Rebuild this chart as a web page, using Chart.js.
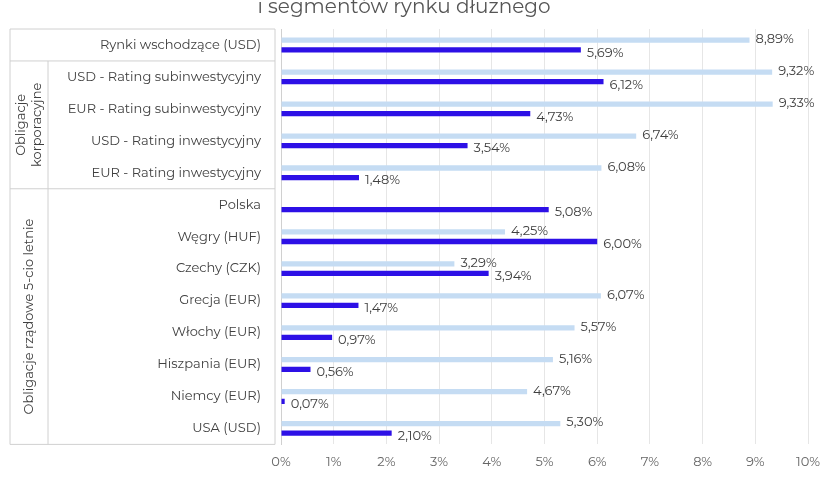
<!DOCTYPE html><html><head><meta charset="utf-8">
<script src="https://cdn.jsdelivr.net/npm/chart.js@4"></script>
<style>body{margin:0;overflow:hidden;background:#fff}#w{position:absolute;left:0;top:-33px;width:840px;height:546px}</style></head><body>
<div id="w"><canvas id="c"></canvas></div>
<script>
const categories=["Rynki wschodzące (USD)","USD - Rating subinwestycyjny","EUR - Rating subinwestycyjny","USD - Rating inwestycyjny","EUR - Rating inwestycyjny","Polska","Węgry (HUF)","Czechy (CZK)","Grecja (EUR)","Włochy (EUR)","Hiszpania (EUR)","Niemcy (EUR)","USA (USD)"];
const currentValues=[8.89,9.32,9.33,6.74,6.08,null,4.25,3.29,6.07,5.57,5.16,4.67,5.30];
const endOf2021Values=[5.69,6.12,4.73,3.54,1.48,5.08,6.00,3.94,1.47,0.97,0.56,0.07,2.10];
const seriesNames=["Rentowność obecnie","Rentowność na koniec 2021 r."];
const groups=[{label:["Obligacje","korporacyjne"],from:1,to:4},{label:["Obligacje rządowe 5-cio letnie"],from:5,to:12}];
const F="Montserrat, 'Open Sans', sans-serif";
const fmt=v=>v.toFixed(2).replace('.',',')+'%';
const labelsPlugin={id:'lbl',afterDatasetsDraw(ch){const c=ch.ctx;c.save();c.font="13px "+F;c.fillStyle="#404040";c.textBaseline="middle";
ch.data.datasets.forEach((ds,i)=>{ch.getDatasetMeta(i).data.forEach((el,j)=>{const v=ds.data[j];if(v==null)return;c.fillText(fmt(v),el.x+6,el.y+(i==0?-1:3));});});c.restore();}};
const groupPlugin={id:'grp',afterDraw(ch){const c=ch.ctx,y=ch.scales.y,ca=ch.chartArea;c.save();c.strokeStyle="#d0d0d0";c.lineWidth=1;
const half=(y.getPixelForValue(1)-y.getPixelForValue(0))/2;const L=10,M=48,R=ca.left-6;
const top=y.getPixelForValue(0)-half,bot=y.getPixelForValue(categories.length-1)+half;
c.beginPath();c.moveTo(L,top);c.lineTo(R,top);c.moveTo(L,top);c.lineTo(L,bot);c.lineTo(R,bot);c.lineTo(R,top);c.stroke();
groups.forEach(g=>{const a=y.getPixelForValue(g.from)-half,b=y.getPixelForValue(g.to)+half;c.beginPath();c.moveTo(L,a);c.lineTo(R,a);c.moveTo(M,a);c.lineTo(M,b);c.stroke();
c.save();c.translate((L+M)/2,(a+b)/2);c.rotate(-Math.PI/2);c.fillStyle="#404040";c.font="13px "+F;c.textAlign="center";c.textBaseline="middle";
const n=g.label.length;g.label.forEach((t,k)=>c.fillText(t,0,(k-(n-1)/2)*16));c.restore();});c.restore();}};
new Chart(document.getElementById('c'),{type:'bar',data:{labels:categories,datasets:[
{label:seriesNames[0],data:currentValues,backgroundColor:"#c5dcf3",barPercentage:0.55,categoryPercentage:0.6},
{label:seriesNames[1],data:endOf2021Values,backgroundColor:"#2d10e6",barPercentage:0.55,categoryPercentage:0.6}]},
options:{indexAxis:'y',responsive:true,maintainAspectRatio:false,animation:false,
layout:{padding:{left:0,right:32,top:0,bottom:0}},
plugins:{title:{display:true,text:["Rentowności zagranicznych obligacji","i segmentów rynku dłużnego"],color:"#555",font:{family:F,size:20,weight:'normal'},padding:{top:4,bottom:10}},
legend:{position:'bottom',labels:{color:'#555',font:{family:F,size:13},boxWidth:12,boxHeight:12},padding:20},tooltip:{enabled:false}},
scales:{x:{min:0,max:10,ticks:{stepSize:1,callback:v=>v+'%',color:'#666',font:{family:F,size:13},padding:10},grid:{color:'#e6e6e6',drawTicks:false},border:{display:false}},
y:{afterFit(s){s.width=281;},ticks:{color:'#404040',font:{family:F,size:13},padding:12},grid:{display:false},border:{display:true,color:'#d0d0d0'}}}},
plugins:[labelsPlugin,groupPlugin]});
</script></body></html>
